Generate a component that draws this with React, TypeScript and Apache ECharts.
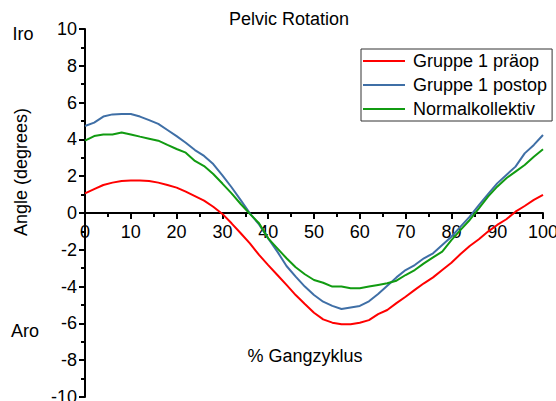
import React, { useEffect, useRef } from "react";
import * as echarts from "echarts";

const xValues = [0,2,4,6,8,10,12,14,16,18,20,22,24,26,28,30,32,34,36,38,40,42,44,46,48,50,52,54,56,58,60,62,64,66,68,70,72,74,76,78,80,82,84,86,88,90,92,94,96,98,100];

const praeop = [1.07,1.30,1.52,1.65,1.74,1.76,1.76,1.74,1.65,1.52,1.38,1.16,0.92,0.67,0.34,-0.05,-0.56,-1.10,-1.65,-2.28,-2.83,-3.37,-3.91,-4.46,-4.95,-5.42,-5.78,-5.96,-6.05,-6.05,-5.96,-5.82,-5.50,-5.27,-4.90,-4.55,-4.18,-3.82,-3.50,-3.10,-2.70,-2.23,-1.79,-1.43,-1.01,-0.65,-0.34,0.07,0.38,0.71,0.98];

const postop = [4.73,4.91,5.24,5.36,5.38,5.38,5.24,5.05,4.84,4.51,4.18,3.82,3.42,3.10,2.66,2.05,1.40,0.70,-0.02,-0.62,-1.38,-2.10,-2.88,-3.46,-4.00,-4.46,-4.82,-5.05,-5.22,-5.13,-5.05,-4.80,-4.40,-3.95,-3.50,-3.10,-2.83,-2.46,-2.19,-1.74,-1.29,-0.74,-0.20,0.43,1.03,1.61,2.07,2.52,3.24,3.70,4.24];

const normal = [3.93,4.18,4.27,4.27,4.38,4.27,4.15,4.04,3.93,3.70,3.48,3.28,2.83,2.55,2.12,1.60,1.07,0.49,-0.05,-0.56,-1.38,-1.92,-2.46,-2.95,-3.33,-3.64,-3.79,-4.00,-4.00,-4.09,-4.09,-4.00,-3.91,-3.82,-3.68,-3.37,-3.10,-2.74,-2.41,-2.10,-1.47,-0.92,-0.38,0.25,0.89,1.43,1.89,2.25,2.61,3.06,3.46];

const seriesNames = ["Gruppe 1 präop", "Gruppe 1 postop", "Normalkollektiv"];
const seriesColors = ["#ff0000", "#3f6fa6", "#119b11"];

const FONT = "'Liberation Sans', Arial, sans-serif";

const GRID_TOP = 29;
const GRID_BOTTOM = 4;
const CHART_H = 401;

export default function App() {
  const ref = useRef<HTMLDivElement>(null);

  useEffect(() => {
    if (!ref.current) return;
    const chart = echarts.init(ref.current, undefined, { renderer: "svg" });
    const mk = (vals: number[]) => xValues.map((x, i) => [x, vals[i]]);
    const datasets = [praeop, postop, normal];
    // y range is symmetric (-10..10), so zero sits at the middle of the grid height
    const zeroOffset = -(CHART_H - GRID_TOP - GRID_BOTTOM) / 2;
    chart.setOption({
      animation: false,
      backgroundColor: "#ffffff",
      textStyle: { fontFamily: FONT },
      grid: { left: 85, right: 13, top: GRID_TOP, bottom: GRID_BOTTOM, containLabel: false, outerBoundsMode: "none" },
      legend: {
        orient: "vertical",
        left: 361,
        top: 49,
        padding: [3, 5, 3, 2],
        itemGap: 6,
        itemWidth: 42,
        itemHeight: 2,
        itemStyle: { borderWidth: 0 },
        icon: "rect",
        textStyle: { fontSize: 18, color: "#000", fontFamily: FONT, padding: [0, 0, 0, 3] },
        borderColor: "#333",
        borderWidth: 1,
        data: seriesNames,
      },
      xAxis: {
        type: "value",
        min: 0,
        max: 100,
        interval: 10,
        position: "bottom",
        offset: zeroOffset,
        axisLine: { onZero: false, lineStyle: { color: "#000", width: 2 } },
        axisTick: { length: 6, lineStyle: { color: "#000", width: 2 } },
        minorTick: { show: true, splitNumber: 2, length: 4, lineStyle: { color: "#000", width: 2 } },
        axisLabel: { fontSize: 18, color: "#000", margin: 10, fontFamily: FONT },
        splitLine: { show: false },
      },
      yAxis: {
        type: "value",
        min: -10,
        max: 10,
        interval: 2,
        axisLine: { show: true, onZero: false, lineStyle: { color: "#000", width: 2 } },
        axisTick: { show: true, length: 6, lineStyle: { color: "#000", width: 2 } },
        minorTick: { show: true, splitNumber: 2, length: 4, lineStyle: { color: "#000", width: 2 } },
        axisLabel: { fontSize: 18, color: "#000", margin: 8, fontFamily: FONT },
        splitLine: { show: false },
      },
      graphic: [
        { type: "text", x: 289, y: 19, style: { text: "Pelvic Rotation", fontSize: 18, fill: "#000", fontFamily: FONT, textAlign: "center", textVerticalAlign: "middle" } },
        { type: "text", x: 23, y: 34, style: { text: "Iro", fontSize: 18, fill: "#000", fontFamily: FONT, textAlign: "center", textVerticalAlign: "middle" } },
        { type: "text", x: 25, y: 331, style: { text: "Aro", fontSize: 18, fill: "#000", fontFamily: FONT, textAlign: "center", textVerticalAlign: "middle" } },
        { type: "text", x: 305, y: 356, style: { text: "% Gangzyklus", fontSize: 18, fill: "#000", fontFamily: FONT, textAlign: "center", textVerticalAlign: "middle" } },
        { type: "text", x: 21, y: 172, rotation: Math.PI / 2, style: { text: "Angle (degrees)", fontSize: 18, fill: "#000", fontFamily: FONT, textAlign: "center", textVerticalAlign: "middle" } },
      ],
      series: datasets.map((vals, i) => ({
        name: seriesNames[i],
        type: "line",
        data: mk(vals),
        showSymbol: false,
        symbol: "none",
        lineStyle: { color: seriesColors[i], width: 2 },
        itemStyle: { color: seriesColors[i] },
      })),
    });
    return () => chart.dispose();
  }, []);

  return <div ref={ref} style={{ width: 556, height: 401, position: "absolute", left: 0, top: 0 }} />;
}
